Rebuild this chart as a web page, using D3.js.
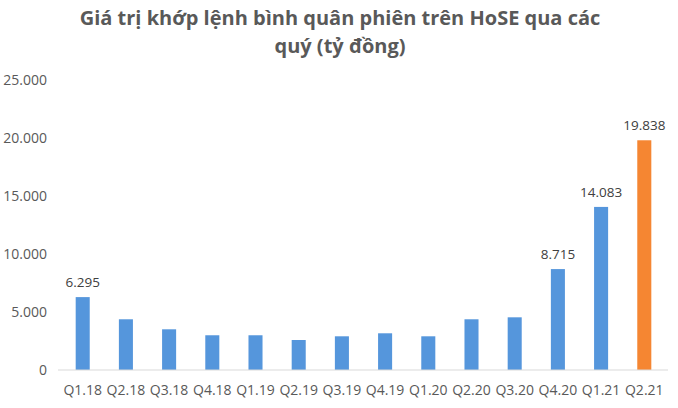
<!DOCTYPE html>
<html>
<head>
<meta charset="utf-8">
<script src="https://cdn.jsdelivr.net/npm/d3@7"></script>
<style>
  body { margin: 0; background: #fff; }
  text { font-family: "Open Sans", "Noto Sans", sans-serif; }
</style>
</head>
<body>
<div id="chart"></div>
<script>
var width = 678,
    height = 408;

// quarters and average matched value (billion VND)
var quarters = ["Q1.18", "Q2.18", "Q3.18", "Q4.18", "Q1.19", "Q2.19", "Q3.19",
                "Q4.19", "Q1.20", "Q2.20", "Q3.20", "Q4.20", "Q1.21", "Q2.21"];
var values = [6295, 4380, 3515, 3000, 3000, 2590, 2910,
              3170, 2910, 4380, 4550, 8715, 14083, 19838];
// only these get a value label
var labelled = ["Q1.18", "Q4.20", "Q1.21", "Q2.21"];
var yTicks = [0, 5000, 10000, 15000, 20000, 25000];
var titleLines = ["Giá trị khớp lệnh bình quân phiên trên HoSE qua các", "quý (tỷ đồng)"];

var fmt = function(v) { return d3.format(",")(v).replace(/,/g, "."); };

var svg = d3.select("#chart").append("svg")
    .attr("width", width)
    .attr("height", height);

var xScale = d3.scaleBand().domain(quarters).range([61, 666]).paddingInner(0.675).paddingOuter(0.34),
    yScale = d3.scaleLinear().domain([0, 25000]).range([370, 80.5]);

// title
svg.selectAll(".title")
    .data(titleLines)
    .enter().append("text")
    .attr("class", "title")
    .attr("x", 340)
    .attr("y", function(d, i) { return 25 + i * 28; })
    .attr("text-anchor", "middle")
    .style("font-size", "20px")
    .style("font-weight", "bold")
    .style("fill", "#595959")
    .text(function(d) { return d; });

// y axis labels (no line)
svg.selectAll(".ytick")
    .data(yTicks)
    .enter().append("text")
    .attr("class", "ytick")
    .attr("x", 47)
    .attr("y", function(d) { return yScale(d); })
    .attr("dy", "0.35em")
    .attr("text-anchor", "end")
    .style("font-size", "14px")
    .style("fill", "#595959")
    .text(fmt);

// bars
svg.selectAll(".bar")
    .data(quarters)
    .enter().append("rect")
    .attr("class", "bar")
    .attr("x", function(d) { return xScale(d); })
    .attr("width", xScale.bandwidth())
    .attr("y", function(d, i) { return yScale(values[i]); })
    .attr("height", function(d, i) { return yScale(0) - yScale(values[i]); })
    .style("fill", function(d) { return d === "Q2.21" ? "#f58632" : "#5596dc"; });

// baseline
svg.append("line")
    .attr("x1", 58).attr("x2", 668)
    .attr("y1", yScale(0)).attr("y2", yScale(0))
    .style("stroke", "#d9d9d9")
    .style("stroke-width", 1);

// x labels
svg.selectAll(".xlabel")
    .data(quarters)
    .enter().append("text")
    .attr("class", "xlabel")
    .attr("x", function(d) { return xScale(d) + xScale.bandwidth() / 2; })
    .attr("y", 390)
    .attr("dy", "0.35em")
    .attr("text-anchor", "middle")
    .style("font-size", "14px")
    .style("fill", "#595959")
    .text(function(d) { return d; });

// value labels
svg.selectAll(".vlabel")
    .data(quarters.filter(function(q) { return labelled.includes(q); }))
    .enter().append("text")
    .attr("class", "vlabel")
    .attr("x", function(d) { return xScale(d) + xScale.bandwidth() / 2; })
    .attr("y", function(d) { return yScale(values[quarters.indexOf(d)]) - 15; })
    .attr("dy", "0.35em")
    .attr("text-anchor", "middle")
    .style("font-size", "13.5px")
    .style("fill", "#404040")
    .text(function(d) { return fmt(values[quarters.indexOf(d)]); });
</script>
</body>
</html>
